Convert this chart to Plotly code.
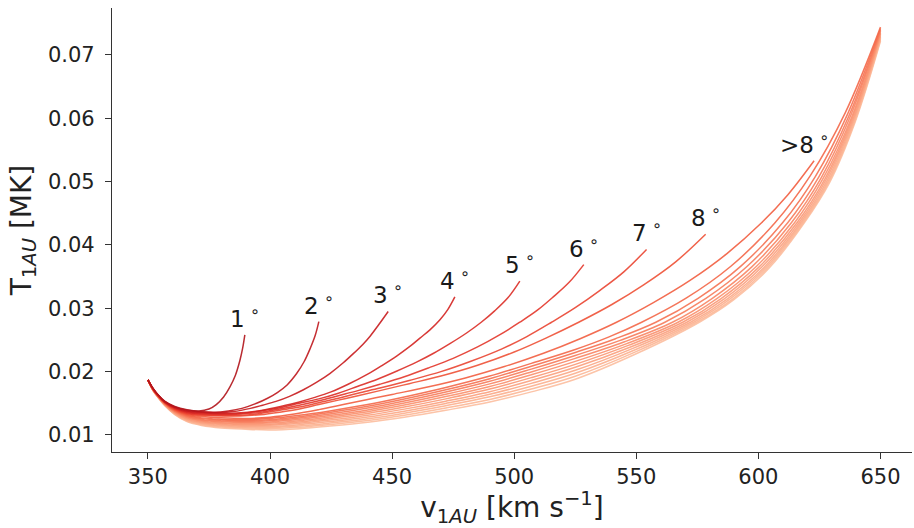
import plotly.graph_objects as go

# Speed (km/s) and temperature (MK) tracks at 1 AU, one per angular distance
v_01 = [350, 352, 354, 357, 361, 366, 371, 375, 378, 381, 383.6, 385.8, 387.7, 388.8, 389.7]
T_01 = [0.0187, 0.0174, 0.0164, 0.0153, 0.0145, 0.0140, 0.0138, 0.0141, 0.0148, 0.0160,
        0.0176, 0.0194, 0.0218, 0.0237, 0.0258]

v_02 = [350, 352, 354, 357, 361, 366, 371, 377, 383, 388.5, 394.5, 399, 403, 407, 410.9,
        414, 416.5, 418.5, 420]
T_02 = [0.0187, 0.0174, 0.0164, 0.01526, 0.01443, 0.0139, 0.0137, 0.0136, 0.0138, 0.0142,
        0.0150, 0.0158, 0.0167, 0.0179, 0.0197, 0.0216, 0.0237, 0.0257, 0.0279]

v_03 = [350, 352, 354, 357, 361, 366, 372, 378, 385, 392, 397, 402.5, 408, 413.5, 419,
        424.5, 430, 434, 438, 441, 444.5, 448.4]
T_03 = [0.0187, 0.0174, 0.0164, 0.01523, 0.01436, 0.0138, 0.0136, 0.0135, 0.0137, 0.0142,
        0.0147, 0.0153, 0.0161, 0.0171, 0.0183, 0.0197, 0.0214, 0.0228, 0.0243, 0.0256,
        0.0274, 0.0295]

v_04 = [350, 352, 354, 357, 361, 366, 372, 380, 388, 395, 402, 410, 418, 425, 432, 440,
        446, 452, 457, 461.4, 465.5, 469.6, 472.8, 475.7]
T_04 = [0.0187, 0.0174, 0.01634, 0.01519, 0.01429, 0.0137, 0.0135, 0.0134, 0.0135, 0.0138,
        0.0143, 0.0150, 0.0159, 0.0168, 0.0180, 0.0196, 0.0210, 0.0225, 0.0239, 0.0253,
        0.0266, 0.0282, 0.0298, 0.0318]

v_05 = [350, 352, 354, 357, 361, 366, 372, 380, 388, 396, 404, 412, 420, 428, 436, 444,
        452, 460, 467, 474, 480.5, 486.5, 492, 497.5, 502.3]
T_05 = [0.0187, 0.0173, 0.01632, 0.01515, 0.01423, 0.0136, 0.0134, 0.0133, 0.0134, 0.0138,
        0.0143, 0.0150, 0.0157, 0.0166, 0.0177, 0.0188, 0.0201, 0.0215, 0.0229, 0.0245,
        0.0261, 0.0278, 0.0296, 0.0317, 0.0343]

v_06 = [350, 352, 354, 357, 361, 366, 372, 380, 388, 396, 404, 412, 420, 428, 436, 445,
        455, 465, 475, 485, 494, 502.3, 509.5, 516, 522.5, 528.5]
T_06 = [0.0187, 0.0173, 0.0163, 0.01512, 0.01416, 0.0135, 0.0133, 0.0132, 0.0133, 0.0136,
        0.0141, 0.0147, 0.0154, 0.0162, 0.0170, 0.0180, 0.0192, 0.0206, 0.0221, 0.0239,
        0.0258, 0.0278, 0.0297, 0.0318, 0.0341, 0.0369]

v_07 = [350, 352, 354, 357, 361, 366, 372, 380, 388, 396, 404, 412, 420, 428, 436, 445,
        457, 470, 482, 495, 505, 515.3, 525, 535, 545, 554.2]
T_07 = [0.0187, 0.0173, 0.01627, 0.01508, 0.01409, 0.0134, 0.0132, 0.0131, 0.0131, 0.0134,
        0.0139, 0.0144, 0.0151, 0.0158, 0.0166, 0.0174, 0.0186, 0.0200, 0.0216, 0.0236,
        0.0255, 0.0278, 0.0301, 0.0328, 0.0358, 0.0393]

v_08 = [350, 352, 354, 357, 361, 366, 372, 380, 388, 396, 404, 412, 420, 428, 436, 445,
        457, 470, 485, 500, 513, 526.4, 540, 553, 566, 578.4]
T_08 = [0.0187, 0.0173, 0.01625, 0.01504, 0.01402, 0.0133, 0.0131, 0.0130, 0.0130, 0.0132,
        0.0136, 0.0141, 0.0148, 0.0155, 0.0162, 0.0170, 0.0181, 0.0193, 0.0210, 0.0231,
        0.0253, 0.0278, 0.0306, 0.0337, 0.0373, 0.0417]

v_09 = [350, 352, 354, 357, 361, 366, 372, 380, 390, 400, 410, 420, 430, 440, 450, 465,
        480, 496, 512, 527, 541.9, 557, 572, 587, 601.3, 612, 622.8]
T_09 = [0.0187, 0.0173, 0.01623, 0.01501, 0.01395, 0.0132, 0.0129, 0.0127, 0.0126, 0.0128,
        0.0133, 0.0140, 0.0148, 0.0156, 0.0164, 0.0176, 0.0190, 0.0208, 0.0229, 0.0252,
        0.0278, 0.0309, 0.0344, 0.0386, 0.0435, 0.0479, 0.0533]

# Pale family of tracks that run up to 650 km/s
v_low = [350, 352, 354, 357, 361, 366, 372, 380, 390, 400, 412, 424.5, 440, 455, 472, 490, 507, 525]

v_10 = v_low + [538.6, 552.2, 570.4, 588.6, 606.8, 621.2, 635.6, 650]
T_10 = [0.0187, 0.0173, 0.0162, 0.01497, 0.01388, 0.0131, 0.0127, 0.0125, 0.0124, 0.0126,
        0.0131, 0.0138, 0.0148, 0.0160, 0.0175, 0.0193, 0.0213, 0.0235,
        0.02545, 0.0278, 0.0316, 0.0366, 0.0435, 0.0509, 0.0609, 0.0744]

v_11 = v_low + [541.5, 558.0, 575.3, 592.6, 609.9, 623.3, 636.6, 650]
T_11 = [0.0187, 0.0172, 0.0162, 0.01493, 0.01382, 0.0130, 0.01258, 0.01236, 0.01225, 0.01242,
        0.01289, 0.01356, 0.01452, 0.01568, 0.01714, 0.01889, 0.02085, 0.02303,
        0.0252, 0.0278, 0.03158, 0.03658, 0.0435, 0.0508, 0.06075, 0.07418]

v_12 = v_low + [543.4, 561.7, 578.5, 595.2, 612.0, 624.7, 637.3, 650]
T_12 = [0.0187, 0.0172, 0.01617, 0.01489, 0.01375, 0.0129, 0.01246, 0.01222, 0.0121, 0.01224,
        0.01268, 0.01332, 0.01424, 0.01536, 0.01678, 0.01848, 0.0204, 0.02256,
        0.02494, 0.0278, 0.03156, 0.03656, 0.0435, 0.0507, 0.0606, 0.07396]

v_13 = v_low + [544.9, 564.8, 581.0, 597.3, 613.5, 625.7, 637.8, 650]
T_13 = [0.0187, 0.0172, 0.01615, 0.01486, 0.01368, 0.0128, 0.01234, 0.01208, 0.01195, 0.01206,
        0.01247, 0.01308, 0.01396, 0.01504, 0.01642, 0.01807, 0.01995, 0.02209,
        0.02468, 0.0278, 0.03154, 0.03654, 0.0435, 0.0506, 0.06045, 0.07374]

v_14 = v_low + [546.1, 567.1, 583.0, 598.9, 614.8, 626.5, 638.3, 650]
T_14 = [0.0187, 0.0172, 0.01613, 0.01482, 0.01361, 0.0127, 0.01222, 0.01194, 0.0118, 0.01188,
        0.01226, 0.01284, 0.01368, 0.01472, 0.01606, 0.01766, 0.0195, 0.02162,
        0.02443, 0.0278, 0.03152, 0.03652, 0.0435, 0.0505, 0.0603, 0.07352]

v_15 = v_low + [547.0, 569.0, 584.6, 600.2, 615.8, 627.2, 638.6, 650]
T_15 = [0.0187, 0.0172, 0.0161, 0.01478, 0.01354, 0.0126, 0.0121, 0.0118, 0.01165, 0.0117,
        0.01205, 0.0126, 0.0134, 0.0144, 0.0157, 0.01725, 0.01905, 0.02115,
        0.02418, 0.0278, 0.0315, 0.0365, 0.0435, 0.0504, 0.06015, 0.0733]

v_16 = v_low + [547.9, 570.7, 586.0, 601.3, 616.6, 627.7, 638.9, 650]
T_16 = [0.0187, 0.0172, 0.01608, 0.01475, 0.01347, 0.0125, 0.01198, 0.01166, 0.0115, 0.01152,
        0.01184, 0.01236, 0.01312, 0.01408, 0.01534, 0.01684, 0.0186, 0.02068,
        0.02392, 0.0278, 0.03148, 0.03648, 0.0435, 0.0503, 0.06, 0.07308]

v_17 = v_low + [548.6, 572.2, 587.2, 602.3, 617.3, 628.2, 639.1, 650]
T_17 = [0.0187, 0.0171, 0.01606, 0.01471, 0.01341, 0.0124, 0.01186, 0.01152, 0.01135, 0.01134,
        0.01163, 0.01212, 0.01284, 0.01376, 0.01498, 0.01643, 0.01815, 0.02021,
        0.02367, 0.0278, 0.03146, 0.03646, 0.0435, 0.0502, 0.05985, 0.07286]

v_18 = v_low + [549.3, 573.5, 588.3, 603.1, 617.9, 628.6, 639.3, 650]
T_18 = [0.0187, 0.0171, 0.01604, 0.01467, 0.01334, 0.0123, 0.01174, 0.01138, 0.0112, 0.01116,
        0.01142, 0.01188, 0.01256, 0.01344, 0.01462, 0.01602, 0.0177, 0.01974,
        0.02341, 0.0278, 0.03144, 0.03644, 0.0435, 0.0501, 0.0597, 0.07264]

v_19 = v_low + [549.9, 574.7, 589.3, 603.8, 618.4, 628.9, 639.5, 650]
T_19 = [0.0187, 0.0171, 0.01602, 0.01464, 0.01327, 0.0122, 0.01162, 0.01124, 0.01105, 0.01098,
        0.01121, 0.01164, 0.01228, 0.01312, 0.01426, 0.01561, 0.01725, 0.01927,
        0.02316, 0.0278, 0.03142, 0.03642, 0.0435, 0.0500, 0.05955, 0.07242]

v_20 = v_low + [550.4, 575.8, 590.1, 604.5, 618.8, 629.2, 639.6, 650]
T_20 = [0.0187, 0.0171, 0.0160, 0.0146, 0.0132, 0.0121, 0.0115, 0.0111, 0.0109, 0.0108,
        0.0110, 0.0114, 0.0120, 0.0128, 0.0139, 0.0152, 0.0168, 0.0188,
        0.0229, 0.0278, 0.0314, 0.0364, 0.0435, 0.0499, 0.0594, 0.0722]

speeds = [v_01, v_02, v_03, v_04, v_05, v_06, v_07, v_08, v_09, v_10,
          v_11, v_12, v_13, v_14, v_15, v_16, v_17, v_18, v_19, v_20]
temps = [T_01, T_02, T_03, T_04, T_05, T_06, T_07, T_08, T_09, T_10,
         T_11, T_12, T_13, T_14, T_15, T_16, T_17, T_18, T_19, T_20]

# Curve labels (angle), attached to the end of the first nine tracks
angle_labels = ["1", "2", "3", "4", "5", "6", "7", "8", ">8"]

# Reds ramp, dark for small angles to pale for large ones
colors = ["#b2151b", "#bf181d", "#c81b1e", "#d42421", "#dc2d26", "#e4372b",
          "#ea4431", "#ef5136", "#f25e40", "#f46849", "#f67252", "#f77c5b",
          "#f98664", "#fa906d", "#fa9875", "#fba07e", "#fba886", "#fcb08e",
          "#fcb796", "#fcbe9f"]

FONT = "DejaVu Sans"

fig = go.Figure()

# Draw pale tracks first so the dark ones sit on top
for i in reversed(range(len(speeds))):
    fig.add_trace(go.Scatter(
        x=speeds[i], y=temps[i], mode="lines",
        line=dict(color=colors[i], width=1.5, shape="spline", smoothing=1.0),
        opacity=0.9, hoverinfo="skip", showlegend=False,
    ))

for i, lab in enumerate(angle_labels):
    fig.add_annotation(
        x=speeds[i][-1], y=temps[i][-1],
        text=lab + "<sup> ∘</sup>",
        showarrow=False, xanchor="center", yanchor="middle",
        yshift=18, xshift=-10 if lab.startswith(">") else 0,
        font=dict(family=FONT, size=23, color="#1a1a1a"),
    )

axis_common = dict(
    showgrid=False, zeroline=False, showline=True, linecolor="#333333",
    linewidth=1.3, ticks="outside", ticklen=6, tickwidth=1.3, tickcolor="#333333",
    tickfont=dict(family=FONT, size=21, color="#222222"),
    mirror=False,
)

fig.update_layout(
    width=914, height=528,
    margin=dict(l=112, r=2, t=8, b=76),
    paper_bgcolor="white", plot_bgcolor="white",
    xaxis=dict(
        range=[335.3, 662.9], tick0=350, dtick=50,
        title=dict(text="v<sub>1<i>AU</i></sub> [km s<sup>−1</sup>]",
                   font=dict(family=FONT, size=28, color="#222222"),
                   standoff=8),
        **axis_common,
    ),
    yaxis=dict(
        range=[0.00731, 0.07742], tick0=0.01, dtick=0.01, tickformat=".2f",
        ticklabelstandoff=6,
        title=dict(text="T<sub>1<i>AU</i></sub> [MK]",
                   font=dict(family=FONT, size=28, color="#222222"),
                   standoff=8),
        **axis_common,
    ),
)

fig.write_html("out.html")
